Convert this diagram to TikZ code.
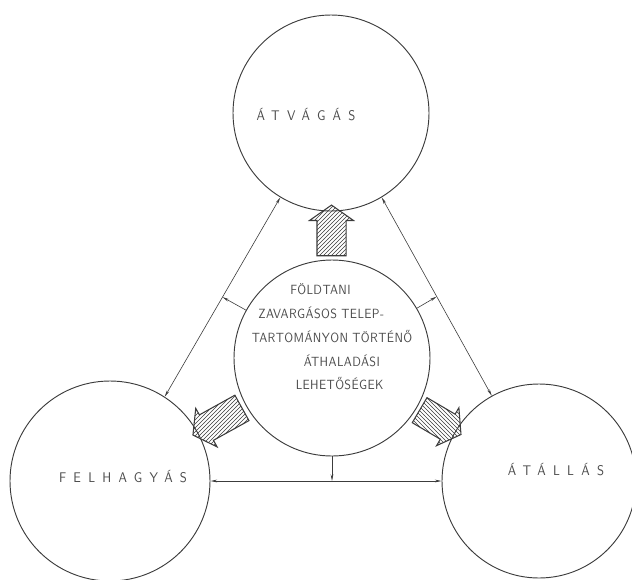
\documentclass[tikz,border=0pt]{standalone}
\usepackage{fontspec}
\newfontfamily\techfont{lmsans10-regular.otf}[FakeStretch=0.9]
\usetikzlibrary{arrows.meta,shapes.arrows,patterns}
\definecolor{inkgray}{RGB}{60,60,60}
\definecolor{textgray}{RGB}{75,75,75}
\tikzset{
  ring/.style={circle, draw=inkgray, line width=0.7pt, inner sep=0pt},
  joinline/.style={draw=inkgray, line width=0.45pt},
  oneway/.style={-{Stealth[length=5pt,width=2pt]}},
  twoway/.style={{Stealth[length=5pt,width=2pt]}-{Stealth[length=5pt,width=2pt]}},
  hatcharrow/.style={single arrow, draw=inkgray, line width=0.8pt, pattern=north east lines, pattern color=inkgray, inner xsep=0pt, inner ysep=10.5pt, single arrow head extend=5.6pt, single arrow tip angle=110, minimum height=#1},
  wide/.style={text=textgray, font=\techfont\fontsize{10.5}{12}\selectfont\addfontfeature{LetterSpace=52}},
  blocktext/.style={text=textgray, font=\techfont\fontsize{10}{17.8}\selectfont\addfontfeature{LetterSpace=3}},
}
\begin{document}
\begin{tikzpicture}[x=0.75pt,y=0.75pt,yscale=-1,xscale=1]
\useasboundingbox (0,0) rectangle (632,579);

%circles
\node[ring, minimum size=147pt] (atvagas) at (331,113) {};
\node[ring, minimum size=147pt] (foldtani) at (332,358) {};
\node[ring, minimum size=150pt] (felhagyas) at (110,481) {};
\node[ring, minimum size=145.5pt] (atallas) at (539,481) {};

%circle labels
\node[wide] (lblatvagas) at (306,115) {ÁTVÁGÁS};
\node[wide] (lblfelhagyas) at (123,477) {FELHAGYÁS};
\node[wide] (lblatallas) at (556,470) {ÁTÁLLÁS};
\node[blocktext, align=left] (lblfoldtani) at (332,337) {\hspace*{29pt}FÖLDTANI\\\hspace*{5pt}ZAVARGÁSOS TELEP-\\TARTOMÁNYON TÖRTÉNŐ\\\hspace*{39pt}ÁTHALADÁSI\\\hspace*{33pt}LEHETŐSÉGEK};

%connecting lines
\draw[joinline, twoway] (atvagas.239) -- coordinate[pos=0.5] (balkoz) (felhagyas.57);
\draw[joinline, twoway] (atvagas.301) -- coordinate[pos=0.5] (jobbkoz) (atallas.119);
\draw[joinline, twoway] (felhagyas.east) -- (atallas.west);
\draw[joinline, oneway] (foldtani) -- (balkoz);
\draw[joinline, oneway] (foldtani) -- (jobbkoz);
\draw[joinline, oneway] (foldtani) -- (foldtani |- felhagyas.east);

%hatched arrows
\path (foldtani) -- node[hatcharrow=38pt, rotate=90, pos=0.5] (nyilfel) {} (atvagas);
\path (foldtani) -- node[hatcharrow=42pt, rotate=209, pos=0.5] (nyilbal) {} (felhagyas);
\path (foldtani) -- node[hatcharrow=36pt, pattern=north west lines, rotate=-30.5, pos=0.5] (nyiljobb) {} (atallas);

\end{tikzpicture}
\end{document}
